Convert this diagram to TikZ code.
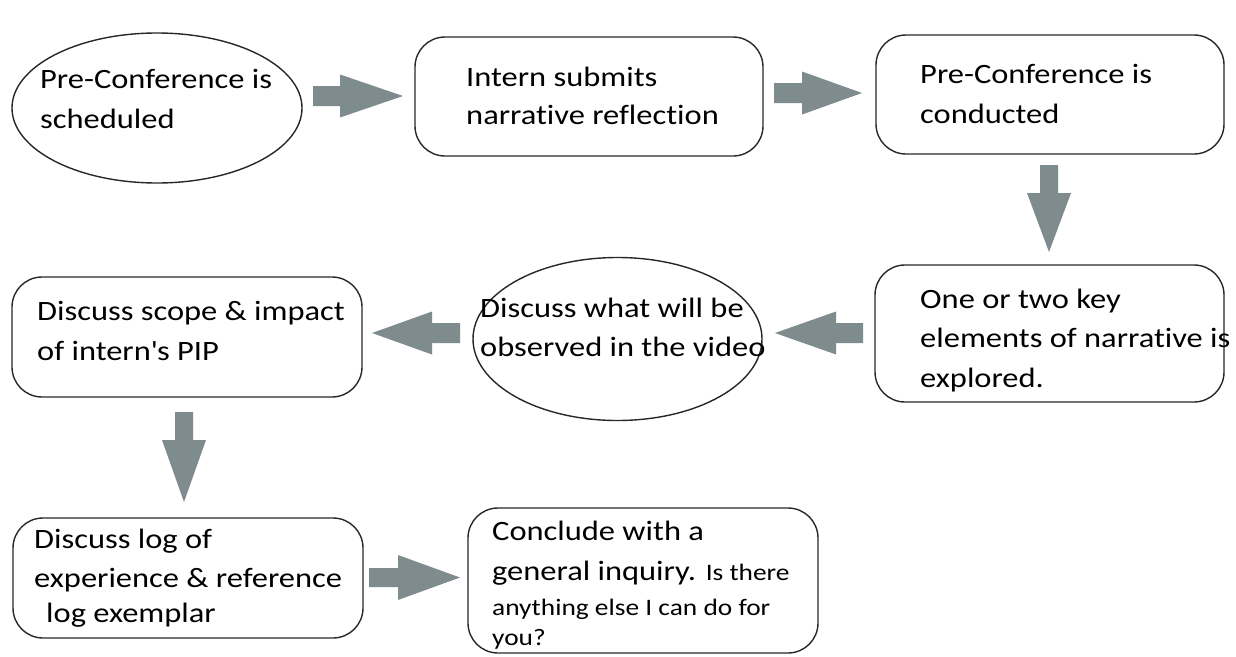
\documentclass[tikz,border=0pt]{standalone}
\usepackage{fontspec}
\setmainfont{Carlito}[Ligatures={TeX,NoCommon},FakeStretch=1.16]
\usetikzlibrary{shapes.geometric}
\definecolor{arrowgray}{RGB}{127,140,142}
\definecolor{edgegray}{RGB}{40,40,40}
\tikzset{
  roundbox/.style={draw=edgegray, line width=1.4pt, rounded corners=30pt, inner sep=0pt},
  ovalbox/.style={draw=edgegray, line width=1.4pt, ellipse, inner sep=0pt},
  txt/.style={anchor=base west, inner sep=0pt, font=\fontsize{28}{40}\selectfont},
  smalltxt/.style={font=\fontsize{23.6}{30}\selectfont},
  blockarrow/.style={fill=arrowgray, draw=none}
}
% horizontal block arrow: start x, head base x, tip x, centre y, shaft half, head half
\newcommand{\hblockarrow}[6]{%
  \fill[blockarrow] (#1,#4-#5) -- (#2,#4-#5) -- (#2,#4-#6) -- (#3,#4) -- (#2,#4+#6) -- (#2,#4+#5) -- (#1,#4+#5) -- cycle;}
% vertical block arrow: centre x, start y, head base y, tip y, shaft half, head half
\newcommand{\vblockarrow}[6]{%
  \fill[blockarrow] (#1-#5,#2) -- (#1-#5,#3) -- (#1-#6,#3) -- (#1,#4) -- (#1+#6,#3) -- (#1+#5,#3) -- (#1+#5,#2) -- cycle;}
\begin{document}
\begin{tikzpicture}[x=1pt,y=-1pt]
\useasboundingbox (0,0) rectangle (1236,656);
\fill[white] (0,0) rectangle (1236,656);

% shapes
\node[ovalbox, minimum width=290pt, minimum height=150pt] (a) at (157,108) {};
\node[roundbox, minimum width=348pt, minimum height=119pt] (b) at (589,96.5) {};
\node[roundbox, minimum width=348pt, minimum height=119pt] (c) at (1050,94.5) {};
\node[roundbox, minimum width=349pt, minimum height=137pt] (d) at (1049.5,333.5) {};
\node[ovalbox, minimum width=289pt, minimum height=163pt] (e) at (617.5,339) {};
\node[roundbox, minimum width=350pt, minimum height=120pt] (f) at (187,337) {};
\node[roundbox, minimum width=350pt, minimum height=120pt] (g) at (188,578) {};
\node[roundbox, minimum width=350pt, minimum height=145pt] (h) at (643,580.5) {};

% texts
\node[txt] (ta1) at (40,88) {Pre-Conference is};
\node[txt] (ta2) at (40,128) {scheduled};
\node[txt] (tb1) at (466,86) {Intern submits};
\node[txt] (tb2) at (466,124) {narrative reflection};
\node[txt] (tc1) at (920,83) {Pre-Conference is};
\node[txt] (tc2) at (920,123) {conducted};
\node[txt] (td1) at (920,308) {One or two key};
\node[txt] (td2) at (920,347) {elements of narrative is};
\node[txt] (td3) at (920,387) {explored.};
\node[txt] (te1) at (480,317) {Discuss what will be};
\node[txt] (te2) at (480,356) {observed in the video};
\node[txt] (tf1) at (37,320) {Discuss scope \& impact};
\node[txt] (tf2) at (37,360) {of intern\textquotesingle s PIP};
\node[txt] (tg1) at (34,548) {Discuss log of};
\node[txt] (tg2) at (34,587) {experience \& reference};
\node[txt] (tg3) at (46,622) {log exemplar};
\node[txt] (th1) at (492,540) {Conclude with a};
\node[txt] (th2) at (492,580) {general inquiry. {\fontsize{23.6}{30}\selectfont Is there}};
\node[txt, smalltxt] (th3) at (492,615) {anything else I can do for};
\node[txt, smalltxt] (th4) at (492,645) {you?};

% block arrows
\hblockarrow{313}{340}{403}{96}{10}{21.5}
\hblockarrow{774}{802}{862}{93}{10}{21.5}
\vblockarrow{1049}{165}{193}{252}{9}{22}
\hblockarrow{863}{836}{775}{333}{10}{21.5}
\hblockarrow{460}{432}{372}{333}{10}{21.5}
\vblockarrow{184}{412}{440}{502}{9}{22}
\hblockarrow{369}{398}{460}{577.5}{9.5}{22.5}
\end{tikzpicture}
\end{document}
